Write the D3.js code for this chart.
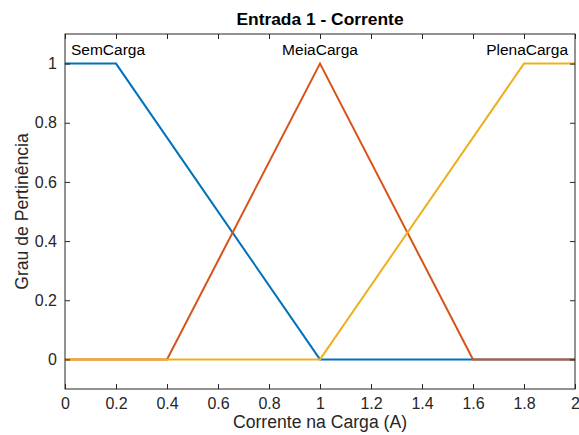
<!DOCTYPE html>
<html>
<head>
<meta charset="utf-8">
<script src="https://cdn.jsdelivr.net/npm/d3@7"></script>
<style>
  html, body { margin: 0; padding: 0; background: #fff; }
  svg { display: block; font-family: Helvetica, Arial, "Liberation Sans", sans-serif; }
</style>
</head>
<body>
<svg id="chart" width="579" height="435"></svg>
<script>
// Membership functions for "Entrada 1 - Corrente"
const mfNames = ["SemCarga", "MeiaCarga", "PlenaCarga"];
const mfColors = ["#0072BD", "#D95319", "#EDB120"];
// Breakpoints (x, grau) of each trapezoid/triangle across the universe [0, 2]
const semCarga = [[0, 1], [0.2, 1], [1, 0], [2, 0]];
const meiaCarga = [[0, 0], [0.4, 0], [1, 1], [1.6, 0], [2, 0]];
const plenaCarga = [[0, 0], [1, 0], [1.8, 1], [2, 1]];
const xTicks = [0, 0.2, 0.4, 0.6, 0.8, 1, 1.2, 1.4, 1.6, 1.8, 2];
const yTicks = [0, 0.2, 0.4, 0.6, 0.8, 1];
const series = [semCarga, meiaCarga, plenaCarga];

const svg = d3.select("#chart");
const plotL = 65, plotR = 575, plotT = 34, plotB = 389;

const x = d3.scaleLinear().domain([0, 2]).range([plotL, plotR]);
const y = d3.scaleLinear().domain([-0.1, 1.1]).range([plotB, plotT]);

// Lines
const line = d3.line().x(d => x(d[0])).y(d => y(d[1]));
series.forEach((s, i) => {
  svg.append("path")
    .datum(s)
    .attr("d", line)
    .attr("fill", "none")
    .attr("stroke", mfColors[i])
    .attr("stroke-width", 2)
    .attr("stroke-linejoin", "miter");
});

// Axes with inward ticks on all four sides
const axisColor = "#262626";
const tickLen = 5;
function styleAxis(g) {
  g.select(".domain").remove();
  g.selectAll(".tick line").attr("stroke", axisColor);
  g.selectAll(".tick text").attr("fill", axisColor).style("font-size", "16px");
}
const fmt = d => String(d);

svg.append("g").attr("transform", `translate(0,${plotB})`)
  .call(d3.axisBottom(x).tickValues(xTicks).tickFormat(fmt).tickSizeInner(-tickLen).tickSizeOuter(0).tickPadding(9))
  .call(styleAxis);
svg.append("g").attr("transform", `translate(0,${plotT})`)
  .call(d3.axisTop(x).tickValues(xTicks).tickFormat("").tickSizeInner(-tickLen).tickSizeOuter(0))
  .call(styleAxis);
svg.append("g").attr("transform", `translate(${plotL},0)`)
  .call(d3.axisLeft(y).tickValues(yTicks).tickFormat(fmt).tickSizeInner(-tickLen).tickSizeOuter(0).tickPadding(8))
  .call(styleAxis);
svg.append("g").attr("transform", `translate(${plotR},0)`)
  .call(d3.axisRight(y).tickValues(yTicks).tickFormat("").tickSizeInner(-tickLen).tickSizeOuter(0))
  .call(styleAxis);

// Box
svg.append("rect")
  .attr("x", plotL).attr("y", plotT)
  .attr("width", plotR - plotL).attr("height", plotB - plotT)
  .attr("fill", "none").attr("stroke", axisColor).attr("stroke-width", 1);

// Membership function labels
const labelY = 55;
svg.append("text").attr("x", x(0) + 6).attr("y", labelY)
  .attr("text-anchor", "start").attr("fill", "#000").style("font-size", "15.5px").text(mfNames[0]);
svg.append("text").attr("x", x(1)).attr("y", labelY)
  .attr("text-anchor", "middle").attr("fill", "#000").style("font-size", "15.5px").text(mfNames[1]);
svg.append("text").attr("x", x(2) - 7).attr("y", labelY)
  .attr("text-anchor", "end").attr("fill", "#000").style("font-size", "15.5px").text(mfNames[2]);

// Title and axis labels
svg.append("text").attr("x", (plotL + plotR) / 2).attr("y", 25)
  .attr("text-anchor", "middle").attr("fill", "#000")
  .style("font-size", "17.4px").style("font-weight", "bold")
  .text("Entrada 1 - Corrente");
svg.append("text").attr("x", (plotL + plotR) / 2).attr("y", 428)
  .attr("text-anchor", "middle").attr("fill", axisColor).style("font-size", "17.6px")
  .text("Corrente na Carga (A)");
svg.append("text")
  .attr("transform", `translate(28,${(plotT + plotB) / 2}) rotate(-90)`)
  .attr("text-anchor", "middle").attr("fill", axisColor).style("font-size", "17.6px")
  .text("Grau de Pertinência");
</script>
</body>
</html>
